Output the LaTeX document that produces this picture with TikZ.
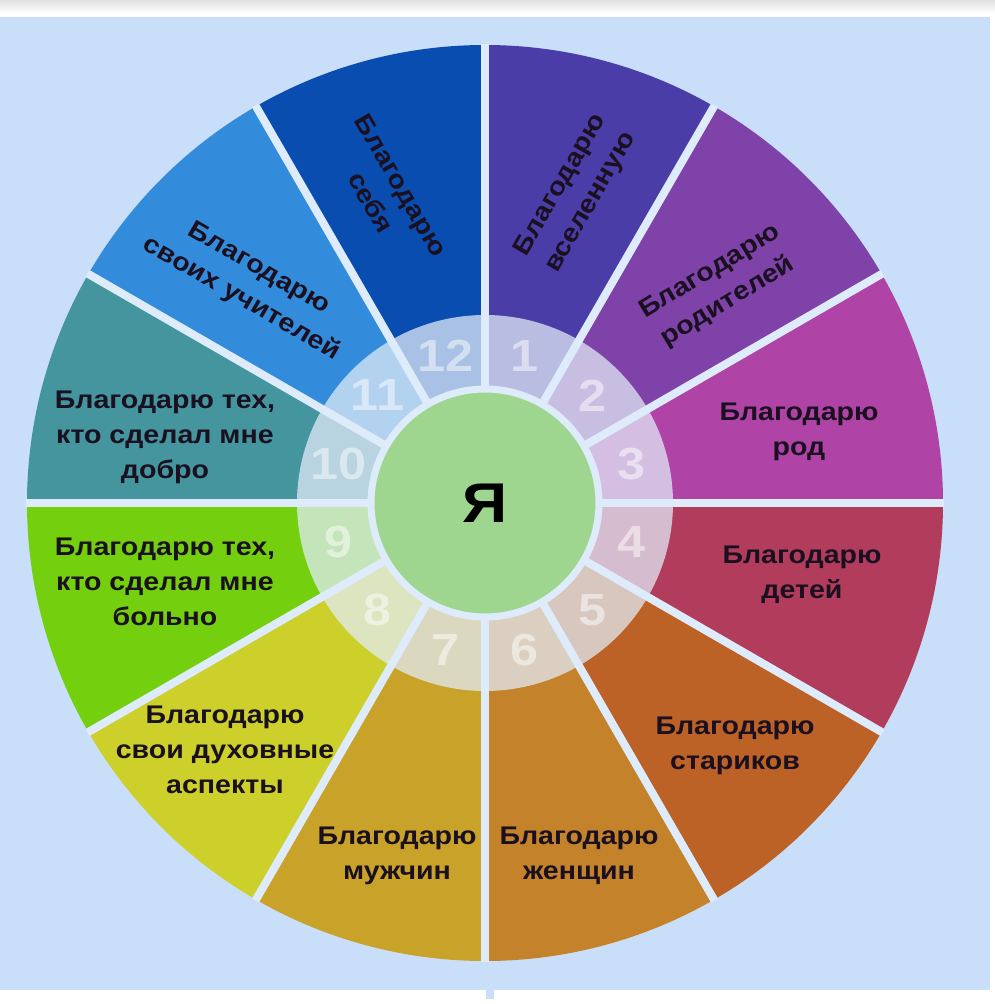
\documentclass[tikz,border=0pt]{standalone}
\usepackage{fontspec}
\setmainfont[FakeStretch=1.12]{Liberation Sans}
\usepackage{tikz}

\definecolor{bgblue}{HTML}{C9DEF8}
\definecolor{gapc}{HTML}{DDEBFA}
\definecolor{ringbase}{HTML}{E2ECF8}
\definecolor{ctr}{HTML}{9ED690}
\definecolor{txt}{HTML}{1A1020}
\definecolor{c1}{HTML}{4A3DA8}
\definecolor{c2}{HTML}{7E42A8}
\definecolor{c3}{HTML}{B044A6}
\definecolor{c4}{HTML}{B23C5C}
\definecolor{c5}{HTML}{BC6226}
\definecolor{c6}{HTML}{C4822A}
\definecolor{c7}{HTML}{C9A22A}
\definecolor{c8}{HTML}{CDCF2A}
\definecolor{c9}{HTML}{74D00E}
\definecolor{c10}{HTML}{44959E}
\definecolor{c11}{HTML}{338CDB}
\definecolor{c12}{HTML}{0A4DB0}

\tikzset{
  gap/.style={gapc, line width=8pt},
  lab/.style={align=center, inner sep=0pt, text=txt,
    font=\fontsize{25.5}{35}\selectfont\bfseries},
  num/.style={inner sep=0pt, text=white, text opacity=0.5,
    font=\fontsize{45}{45}\selectfont\bfseries}
}

\begin{document}
\begin{tikzpicture}[x=1pt,y=1pt]
  \useasboundingbox (-485,-501) rectangle (510,503);
  % page and background
  \fill[white] (-485,-501) rectangle (510,503);
  \shade[top color=black!12, bottom color=white] (-485,503) rectangle (510,490);
  \fill[bgblue] (-485,-487) rectangle (505,486);
  \fill[bgblue] (1,-487) rectangle (9,-496);

  % outer sectors
  \foreach \k in {1,...,12}
    \fill[c\k] (0,0) -- (120-30*\k:458) arc[start angle=120-30*\k, end angle=90-30*\k, radius=458] -- cycle;
  % ring with numbers
  \foreach \k in {1,...,12}
    \fill[c\k!27!ringbase] (0,0) -- (120-30*\k:188) arc[start angle=120-30*\k, end angle=90-30*\k, radius=188] -- cycle;
  \foreach \a in {0,30,...,330}
    \draw[gap] (0,0) -- (\a:459);
  \foreach \k in {1,...,12}
    \node[num] (n\k) at (105-30*\k:152) {\k};

  % centre
  \node[circle, fill=ctr, draw=gapc, line width=7pt, minimum size=228pt,
    font=\fontsize{56}{56}\selectfont\bfseries] (me) at (0,0) {Я};

  % labels
  \foreach \k/\x/\y/\r/\txt in {
      1/91/309/60/{Благодарю\\вселенную},
      2/234/216/31/{Благодарю\\родителей},
      3/314/71/0/{Благодарю\\род},
      4/317/-72/0/{Благодарю\\детей},
      5/250/-243/0/{Благодарю\\стариков},
      6/94/-353/0/{Благодарю\\женщин},
      7/-88/-353/0/{Благодарю\\мужчин},
      8/-260/-247/0/{Благодарю\\свои духовные\\аспекты},
      9/-320/-79/0/{Благодарю тех,\\кто сделал мне\\больно},
      10/-320/66/0/{Благодарю тех,\\кто сделал мне\\добро},
      11/-235/219/-30/{Благодарю\\своих учителей},
      12/-99/309/-60/{Благодарю\\себя}}
    \node[lab, rotate=\r] (t\k) at (\x,\y) {\txt};
\end{tikzpicture}
\end{document}
